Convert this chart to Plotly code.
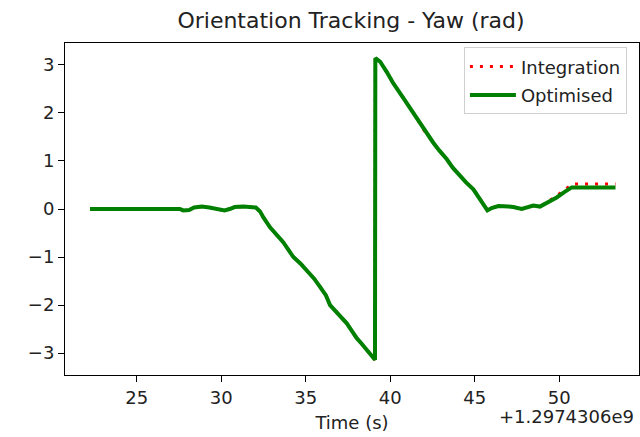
import plotly.graph_objects as go

TIME_OFFSET_LABEL = "+1.2974306e9"

# Optimised yaw (rad) vs time (s, relative to offset)
t_opt = [22.24, 25.0, 27.56, 27.75, 28.1, 28.4, 28.85, 29.3, 29.8, 30.2, 30.5, 30.8, 31.3, 31.8, 32.05,
         32.3, 32.49, 32.89, 33.3, 33.67, 34.0, 34.27, 34.7, 35.06, 35.5, 35.85, 36.2, 36.44, 36.9,
         37.43, 37.7, 38.02, 38.3, 38.61, 38.85, 39.10, 39.12, 39.4, 39.8, 40.18, 40.8, 41.37, 41.96,
         42.55, 42.9, 43.34, 43.7, 44.13, 44.5, 44.92, 45.31, 45.55, 45.75, 46.0, 46.4, 47.0, 47.28,
         47.78, 48.1, 48.47, 48.86, 49.3, 49.85, 50.3, 50.74, 51.5, 52.5, 53.33]
yaw_opt = [0.0, 0.0, 0.0, -0.03, -0.02, 0.03, 0.05, 0.03, -0.01, -0.03, 0.0, 0.04, 0.05, 0.05, 0.03,
           -0.05, -0.17, -0.38, -0.55, -0.69, -0.86, -1.0, -1.14, -1.28, -1.45, -1.62, -1.80, -2.0, -2.18,
           -2.38, -2.52, -2.69, -2.80, -2.93, -3.05, -3.14, 3.14, 3.07, 2.85, 2.62, 2.30, 2.0, 1.66,
           1.38, 1.22, 1.04, 0.86, 0.69, 0.55, 0.41, 0.21, 0.08, -0.03, 0.02, 0.06, 0.05, 0.04,
           0.0, 0.04, 0.07, 0.05, 0.13, 0.24, 0.35, 0.45, 0.45, 0.45, 0.45]

# Integration yaw (rad): same as optimised until ~49.9 s, then drifts slightly higher
t_int = [22.24, 25.0, 27.56, 27.75, 28.1, 28.4, 28.85, 29.3, 29.8, 30.2, 30.5, 30.8, 31.3, 31.8, 32.05,
         32.3, 32.49, 32.89, 33.3, 33.67, 34.0, 34.27, 34.7, 35.06, 35.5, 35.85, 36.2, 36.44, 36.9,
         37.43, 37.7, 38.02, 38.3, 38.61, 38.85, 39.10, 39.12, 39.4, 39.8, 40.18, 40.8, 41.37, 41.96,
         42.55, 42.9, 43.34, 43.7, 44.13, 44.5, 44.92, 45.31, 45.55, 45.75, 46.0, 46.4, 47.0, 47.28,
         47.78, 48.1, 48.47, 48.86, 49.3, 49.85, 50.3, 50.8, 51.5, 52.5, 53.33]
yaw_int = [0.0, 0.0, 0.0, -0.03, -0.02, 0.03, 0.05, 0.03, -0.01, -0.03, 0.0, 0.04, 0.05, 0.05, 0.03,
           -0.05, -0.17, -0.38, -0.55, -0.69, -0.86, -1.0, -1.14, -1.28, -1.45, -1.62, -1.80, -2.0, -2.18,
           -2.38, -2.52, -2.69, -2.80, -2.93, -3.05, -3.14, 3.14, 3.07, 2.85, 2.62, 2.30, 2.0, 1.66,
           1.38, 1.22, 1.04, 0.86, 0.69, 0.55, 0.41, 0.21, 0.08, -0.03, 0.02, 0.06, 0.05, 0.04,
           0.0, 0.04, 0.07, 0.05, 0.14, 0.27, 0.40, 0.52, 0.52, 0.52, 0.52]

x_ticks = [25, 30, 35, 40, 45, 50]
y_ticks = [-3, -2, -1, 0, 1, 2, 3]

FONT = "DejaVu Sans"
TXT = "#222"

fig = go.Figure()
fig.add_trace(go.Scatter(x=t_int, y=yaw_int, mode="lines", name="Integration",
                         legendgroup="a",
                         line=dict(color="#ff0000", width=3, dash="3px,7px")))
fig.add_trace(go.Scatter(x=t_opt, y=yaw_opt, mode="lines", name="Optimised",
                         legendgroup="b",
                         line=dict(color="#008000", width=4)))

axis_common = dict(showgrid=False, zeroline=False, showline=True, mirror=True,
                   linecolor="black", linewidth=1.1, ticks="outside", ticklen=6,
                   tickwidth=1.1, tickcolor="black",
                   tickfont=dict(family=FONT, size=18, color=TXT))

fig.update_layout(
    width=640, height=437,
    margin=dict(l=65, r=1, t=42.7, b=61.5, autoexpand=False),
    paper_bgcolor="white", plot_bgcolor="white",
    font=dict(family=FONT, size=18, color=TXT),
    title=dict(text="Orientation Tracking - Yaw (rad)", x=0.5485, xanchor="center",
               y=1 - 20 / 437, yanchor="middle", yref="container",
               font=dict(family=FONT, size=22, color=TXT)),
    xaxis=dict(range=[20.76, 54.72], tickvals=x_ticks, **axis_common,
               title=dict(text="Time (s)", standoff=9,
                          font=dict(family=FONT, size=18, color=TXT))),
    yaxis=dict(range=[-3.456, 3.456], tickvals=y_ticks, **axis_common),
    legend=dict(x=0.695, y=0.987, xanchor="left", yanchor="top",
                bgcolor="rgba(255,255,255,0.8)", bordercolor="#d0d0d0", borderwidth=1,
                font=dict(family=FONT, size=18, color=TXT),
                traceorder="grouped", tracegroupgap=2, itemwidth=46),
    showlegend=True,
    annotations=[dict(text=TIME_OFFSET_LABEL, xref="paper", yref="paper", x=1, y=-0.1247,
                      xanchor="right", yanchor="middle", xshift=-3, showarrow=False,
                      font=dict(family=FONT, size=18, color=TXT))],
)

fig.write_html("out.html")
